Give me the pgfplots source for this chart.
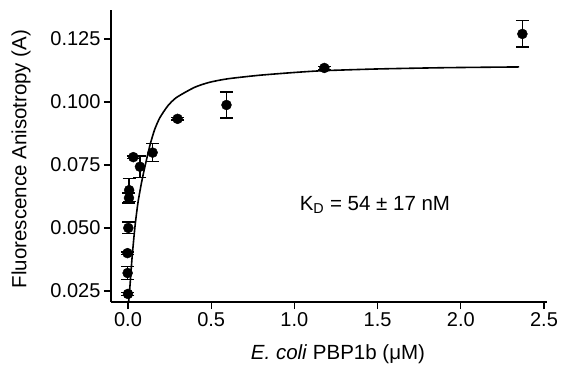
\documentclass[border=0pt]{standalone}
\usepackage{pgfplots}
\pgfplotsset{compat=1.18}
\usepackage{fontspec}
\setmainfont{Liberation Sans}
\begin{document}
\begin{tikzpicture}
\begin{axis}[
  anchor=south west, at={(0pt,0pt)},
  scale only axis,
  width=436pt, height=292pt,
  xmin=-0.102, xmax=2.518,
  ymin=0.0206, ymax=0.1365,
  axis x line*=bottom, axis y line*=left,
  axis line style={line width=1.4pt, -},
  xtick={0,0.5,1,1.5,2,2.5},
  ytick={0.025,0.05,0.075,0.1,0.125},
  tick align=outside,
  major tick length=7pt,
  every tick/.style={black, line width=1.3pt},
  tick label style={font=\fontsize{20}{24}\selectfont},
  /pgf/number format/assume math mode=true,
  xticklabel style={/pgf/number format/.cd, fixed, fixed zerofill, precision=1},
  yticklabel style={/pgf/number format/.cd, fixed, fixed zerofill, precision=3},
  xlabel={\textit{E. coli} PBP1b (μM)},
  ylabel={Fluorescence Anisotropy (A)},
  label style={font=\fontsize{20.5}{25}\selectfont},
  xlabel style={at={(rel axis cs:0.5,0)}, anchor=center, xshift=9pt, yshift=-52pt},
  ylabel style={at={(rel axis cs:0,0.5)}, anchor=center, yshift=90pt, xshift=-3pt},
  clip=true,
]
\addplot[black, line width=1.6pt, smooth, tension=0.4] coordinates {
(0.002,0.0190) (0.012,0.0270) (0.025,0.0385) (0.042,0.0505) (0.060,0.0600)
(0.080,0.0675) (0.100,0.0738) (0.132,0.0828) (0.160,0.0890) (0.192,0.0938)
(0.240,0.0985) (0.292,0.1018) (0.400,0.1058) (0.490,0.1078) (0.600,0.1092)
(0.790,0.1106) (1.000,0.1117) (1.170,0.1124) (1.500,0.1131) (1.900,0.1136)
(2.350,0.1139)
};
\addplot[black, only marks, mark=*, mark size=5pt,
  error bars/.cd, y dir=both, y explicit,
  error bar style={line width=1.3pt, black},
  error mark options={rotate=90, line width=1.3pt, mark size=6.5pt, black}]
coordinates {
(2.370,0.1270) +- (0,0.0052)
(1.180,0.1135) +- (0,0.0006)
(0.592,0.0988) +- (0,0.0052)
(0.298,0.0933) +- (0,0.0005)
(0.148,0.0799) +- (0,0.0036)
(0.072,0.0743) +- (0,0.0042)
(0.032,0.0781) +- (0,0.0005)
(0.007,0.0650) +- (0,0.0046)
(0.006,0.0619) +- (0,0.0020)
(0.002,0.0500) +- (0,0.0023)
(-0.003,0.0400) +- (0,0.0005)
(-0.002,0.0321) +- (0,0.0026)
(0.000,0.0238) +- (0,0.0005)
};
\node[font=\fontsize{20.5}{25}\selectfont, anchor=center] at (axis cs:1.484,0.0591) {K\textsubscript{D} = 54 ± 17 nM};
\end{axis}
\pgfresetboundingbox
\path (-111pt,-62pt) rectangle (451pt,302pt);
\end{tikzpicture}
\end{document}
